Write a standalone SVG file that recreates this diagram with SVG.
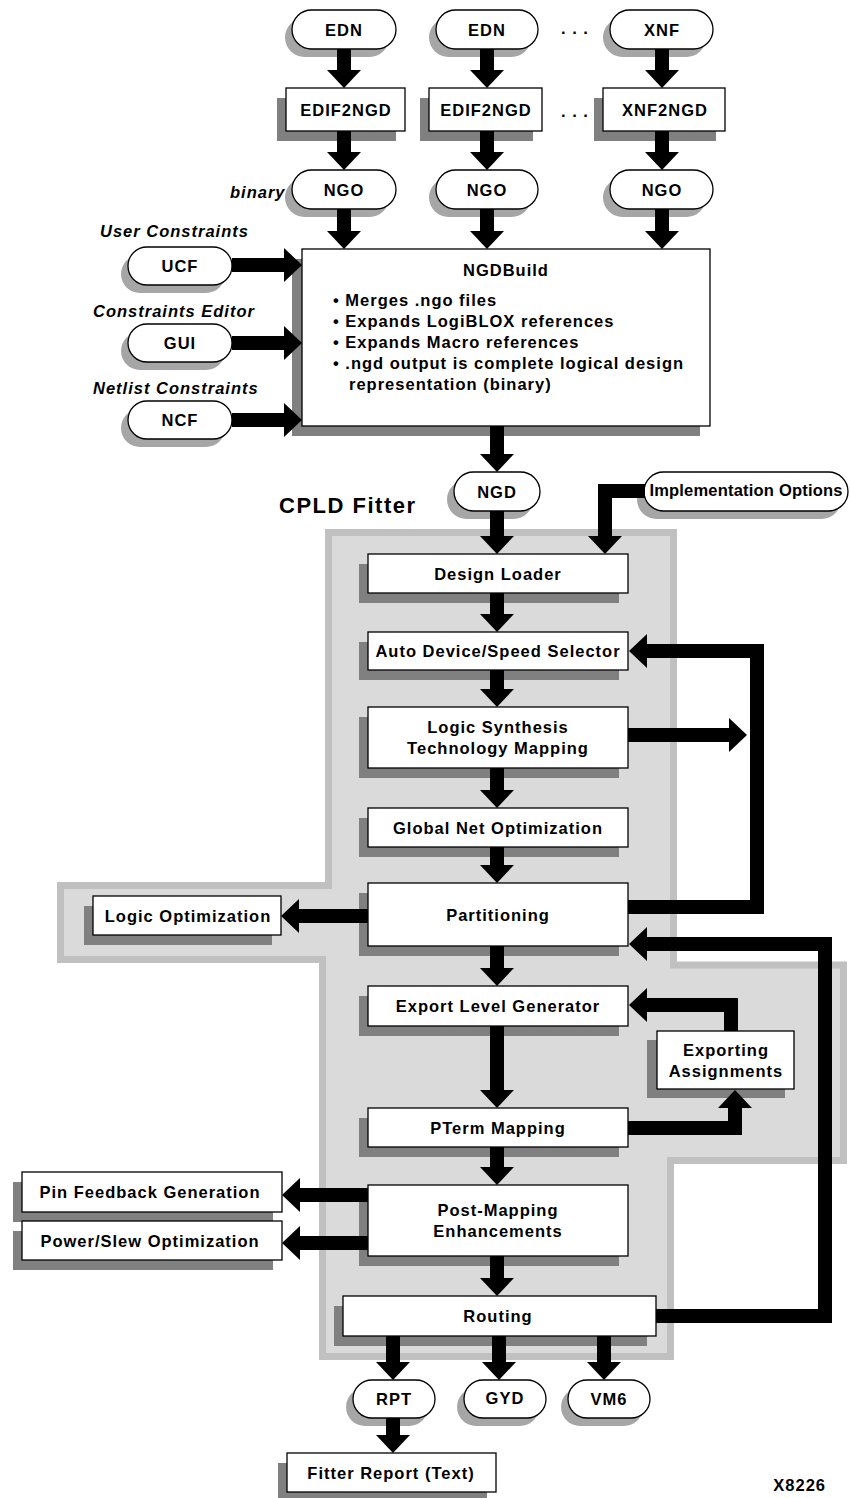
<svg xmlns="http://www.w3.org/2000/svg" width="850" height="1498" viewBox="0 0 850 1498">
<style>
.box{fill:#fff;stroke:#000;stroke-width:1.3}
.sh{fill:#808080}
.psh{fill:#a6a6a6}
.t{font-family:"Liberation Sans",Arial,sans-serif;font-weight:bold;font-size:16.5px;letter-spacing:1px;text-anchor:middle;fill:#000}
.it{font-style:italic;text-anchor:start}
.st{text-anchor:start}
.conn{fill:none;stroke:#000;stroke-width:14;stroke-linejoin:miter;marker-end:url(#ah)}
</style>
<defs>
<marker id="ah" markerUnits="userSpaceOnUse" markerWidth="18" markerHeight="34" viewBox="0 0 18 34" refX="1" refY="17" orient="auto"><path d="M0,0 L18,17 L0,34 Z" fill="#000"/></marker>
</defs>
<rect width="850" height="1498" fill="#fff"/>
<path id="cpld-region" d="M328.5,532.5 H673.5 V965 H843.5 V1160.5 H670.5 V1356.5 H322.5 V959.5 H60.5 V885.5 H328.5 Z" fill="#dadada" stroke="#c0c0c0" stroke-width="7"/>
<text class="t st" x="279" y="513" style="font-size:22px;letter-spacing:1.5px">CPLD Fitter</text>
<text class="t" x="575" y="34">. . .</text>
<text class="t" x="575" y="117">. . .</text>
<text class="t it" x="230" y="198">binary</text>
<text class="t it" x="100" y="237">User Constraints</text>
<text class="t it" x="93" y="317">Constraints Editor</text>
<text class="t it" x="93" y="394">Netlist Constraints</text>
<text class="t" x="826" y="1491" style="text-anchor:end">X8226</text>

<g id="edn1"><rect class="psh" x="285" y="18" width="104" height="39" rx="19.5"/><rect class="box" x="292" y="10" width="104" height="39" rx="19.5"/><text class="t" x="344" y="36">EDN</text></g>
<g id="edn2"><rect class="psh" x="429" y="18" width="102" height="39" rx="19.5"/><rect class="box" x="436" y="10" width="102" height="39" rx="19.5"/><text class="t" x="487" y="36">EDN</text></g>
<g id="xnf"><rect class="psh" x="603" y="18" width="103" height="39" rx="19.5"/><rect class="box" x="610" y="10" width="103" height="39" rx="19.5"/><text class="t" x="662" y="36">XNF</text></g>
<g id="edif2ngd1"><rect class="sh" x="277" y="98" width="119" height="43"/><rect class="box" x="286" y="88" width="119" height="43"/><text class="t" x="346" y="116">EDIF2NGD</text></g>
<g id="edif2ngd2"><rect class="sh" x="420" y="98" width="113" height="43"/><rect class="box" x="429" y="88" width="113" height="43"/><text class="t" x="486" y="116">EDIF2NGD</text></g>
<g id="xnf2ngd"><rect class="sh" x="594" y="98" width="122" height="43"/><rect class="box" x="603" y="88" width="122" height="43"/><text class="t" x="665" y="116">XNF2NGD</text></g>
<g id="ngo1"><rect class="psh" x="285" y="178" width="104" height="39" rx="19.5"/><rect class="box" x="292" y="170" width="104" height="39" rx="19.5"/><text class="t" x="344" y="196">NGO</text></g>
<g id="ngo2"><rect class="psh" x="429" y="178" width="102" height="39" rx="19.5"/><rect class="box" x="436" y="170" width="102" height="39" rx="19.5"/><text class="t" x="487" y="196">NGO</text></g>
<g id="ngo3"><rect class="psh" x="603" y="178" width="103" height="39" rx="19.5"/><rect class="box" x="610" y="170" width="103" height="39" rx="19.5"/><text class="t" x="662" y="196">NGO</text></g>
<g id="ucf"><rect class="psh" x="121" y="255" width="104" height="38" rx="19"/><rect class="box" x="128" y="247" width="104" height="38" rx="19"/><text class="t" x="180" y="272">UCF</text></g>
<g id="gui"><rect class="psh" x="121" y="332" width="104" height="38" rx="19"/><rect class="box" x="128" y="324" width="104" height="38" rx="19"/><text class="t" x="180" y="349">GUI</text></g>
<g id="ncf"><rect class="psh" x="121" y="409" width="104" height="38" rx="19"/><rect class="box" x="128" y="401" width="104" height="38" rx="19"/><text class="t" x="180" y="426">NCF</text></g>
<g id="ngdbuild"><rect class="sh" x="292" y="259" width="408" height="177"/><rect class="box" x="302" y="249" width="408" height="177"/>
<text class="t" x="506" y="276">NGDBuild</text>
<text class="t st" x="333" y="306">• Merges .ngo files</text>
<text class="t st" x="333" y="327">• Expands LogiBLOX references</text>
<text class="t st" x="333" y="348">• Expands Macro references</text>
<text class="t st" x="333" y="369">• .ngd output is complete logical design</text>
<text class="t st" x="349" y="390">representation (binary)</text></g>
<g id="ngd"><rect class="psh" x="447" y="480" width="86" height="39" rx="19.5"/><rect class="box" x="454" y="472" width="86" height="39" rx="19.5"/><text class="t" x="497" y="498">NGD</text></g>
<g id="impl-options"><rect class="psh" x="637" y="480" width="204" height="39" rx="19.5"/><rect class="box" x="644" y="472" width="204" height="39" rx="19.5"/><text class="t" x="746" y="496" style="letter-spacing:0.2px">Implementation Options</text></g>
<g id="design-loader"><rect class="sh" x="359" y="564" width="260" height="39"/><rect class="box" x="368" y="554" width="260" height="39"/><text class="t" x="498" y="580">Design Loader</text></g>
<g id="auto-device"><rect class="sh" x="359" y="642" width="260" height="38"/><rect class="box" x="368" y="632" width="260" height="38"/><text class="t" x="498" y="657">Auto Device/Speed Selector</text></g>
<g id="logic-synthesis"><rect class="sh" x="359" y="717" width="260" height="61"/><rect class="box" x="368" y="707" width="260" height="61"/><text class="t" x="498" y="733">Logic Synthesis</text><text class="t" x="498" y="754">Technology Mapping</text></g>
<g id="global-net"><rect class="sh" x="359" y="818" width="260" height="39"/><rect class="box" x="368" y="808" width="260" height="39"/><text class="t" x="498" y="834">Global Net Optimization</text></g>
<g id="partitioning"><rect class="sh" x="359" y="893" width="260" height="63"/><rect class="box" x="368" y="883" width="260" height="63"/><text class="t" x="498" y="921">Partitioning</text></g>
<g id="logic-optimization"><rect class="sh" x="84" y="906" width="188" height="39"/><rect class="box" x="93" y="896" width="188" height="39"/><text class="t" x="188" y="922">Logic Optimization</text></g>
<g id="export-level"><rect class="sh" x="359" y="996" width="260" height="40"/><rect class="box" x="368" y="986" width="260" height="40"/><text class="t" x="498" y="1012">Export Level Generator</text></g>
<g id="exporting-assignments"><rect class="sh" x="647" y="1040" width="138" height="58"/><rect class="box" x="657" y="1031" width="137" height="58"/><text class="t" x="726" y="1056">Exporting</text><text class="t" x="726" y="1077">Assignments</text></g>
<g id="pterm-mapping"><rect class="sh" x="359" y="1118" width="260" height="39"/><rect class="box" x="368" y="1108" width="260" height="39"/><text class="t" x="498" y="1134">PTerm Mapping</text></g>
<g id="pin-feedback"><rect class="sh" x="13" y="1182" width="260" height="40"/><rect class="box" x="22" y="1172" width="260" height="40"/><text class="t" x="150" y="1198">Pin Feedback Generation</text></g>
<g id="power-slew"><rect class="sh" x="13" y="1231" width="260" height="39"/><rect class="box" x="22" y="1221" width="260" height="39"/><text class="t" x="150" y="1247">Power/Slew Optimization</text></g>
<g id="post-mapping"><rect class="sh" x="359" y="1195" width="260" height="71"/><rect class="box" x="368" y="1185" width="260" height="71"/><text class="t" x="498" y="1216">Post-Mapping</text><text class="t" x="498" y="1237">Enhancements</text></g>
<g id="routing"><rect class="sh" x="334" y="1306" width="313" height="40"/><rect class="box" x="343" y="1296" width="313" height="40"/><text class="t" x="498" y="1322">Routing</text></g>
<g id="rpt"><rect class="psh" x="346" y="1388" width="82" height="38" rx="19"/><rect class="box" x="353" y="1380" width="82" height="38" rx="19"/><text class="t" x="394" y="1405">RPT</text></g>
<g id="gyd"><rect class="psh" x="457" y="1388" width="82" height="38" rx="19"/><rect class="box" x="464" y="1380" width="82" height="38" rx="19"/><text class="t" x="505" y="1404">GYD</text></g>
<g id="vm6"><rect class="psh" x="561" y="1388" width="82" height="38" rx="19"/><rect class="box" x="568" y="1380" width="82" height="38" rx="19"/><text class="t" x="609" y="1405">VM6</text></g>
<g id="fitter-report"><rect class="sh" x="278" y="1463" width="209" height="39"/><rect class="box" x="287" y="1453" width="209" height="39"/><text class="t" x="391" y="1479">Fitter Report (Text)</text></g>

<g id="connectors">
<path class="conn" d="M344,49 V71"/>
<path class="conn" d="M487,49 V71"/>
<path class="conn" d="M662,49 V71"/>
<path class="conn" d="M344,131 V153"/>
<path class="conn" d="M487,131 V153"/>
<path class="conn" d="M662,131 V153"/>
<path class="conn" d="M344,209 V232"/>
<path class="conn" d="M487,209 V232"/>
<path class="conn" d="M662,209 V232"/>
<path class="conn" d="M232,265 H285"/>
<path class="conn" d="M232,343 H285"/>
<path class="conn" d="M232,420 H285"/>
<path class="conn" d="M497,426 V455"/>
<path class="conn" d="M645,491 H605 V537"/>
<path class="conn" d="M497,511 V537"/>
<path class="conn" d="M497,593 V615"/>
<path class="conn" d="M497,670 V690"/>
<path class="conn" d="M497,768 V791"/>
<path class="conn" d="M497,847 V866"/>
<path class="conn" d="M497,946 V969"/>
<path class="conn" d="M497,1026 V1091"/>
<path class="conn" d="M497,1147 V1168"/>
<path class="conn" d="M497,1256 V1279"/>
<path class="conn" d="M628,735 H730"/>
<path class="conn" d="M628,907 H757 V651 H646"/>
<path class="conn" d="M656,1316 H825 V944 H646"/>
<path class="conn" d="M368,916 H298"/>
<path class="conn" d="M731,1031 V1005 H646"/>
<path class="conn" d="M628,1128 H735 V1107"/>
<path class="conn" d="M368,1195 H299"/>
<path class="conn" d="M368,1243 H299"/>
<path class="conn" d="M393,1336 V1363"/>
<path class="conn" d="M499,1336 V1363"/>
<path class="conn" d="M604,1336 V1363"/>
<path class="conn" d="M393,1418 V1436"/>
</g>
</svg>
